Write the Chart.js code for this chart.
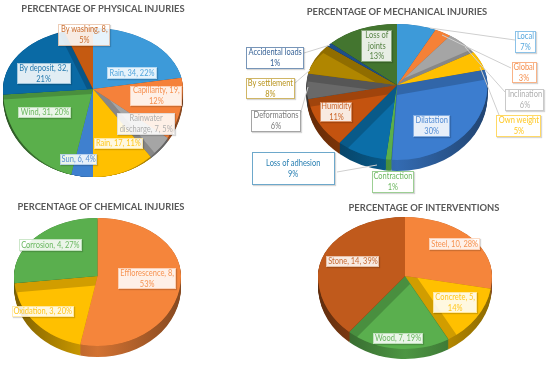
<!DOCTYPE html>
<html>
<head>
<meta charset="utf-8">
<script src="https://cdn.jsdelivr.net/npm/chart.js@4/dist/chart.umd.min.js"></script>
<style>
  html, body { margin: 0; padding: 0; background: #fff; }
  #page { position: relative; width: 550px; height: 365px; overflow: hidden; font-family: Lato, sans-serif; filter: blur(.35px); }
  canvas { position: absolute; left: 0; top: 0; }
  .title { position: absolute; height: 12px; line-height: 12px; font-size: 10.2px; font-weight: 700; color: #595959; white-space: nowrap; transform: translateX(-50%) scaleX(.92); }
  .box { position: absolute; display: flex; align-items: center; justify-content: center; text-align: center; box-sizing: border-box;
         font-size: 9.6px; line-height: 10.6px; background: rgba(255,255,255,.88); border: 1px solid; box-shadow: 1px 1px 1px rgba(0,0,0,.16); }
  .box span { flex: none; transform: scaleX(.78); }
</style>
</head>
<body>
<div id="page"></div>
<script>
// physical injuries
const physicalNames = ['Rain', 'Capillarity', 'Rainwater discharge', 'Rain', 'Sun', 'Wind', 'By deposit', 'By washing'];
const physicalValues = [34, 19, 7, 17, 6, 31, 32, 8];
const physicalPct = [22, 12, 5, 11, 4, 20, 21, 5];
const physicalColors = ['#3d9ad9', '#f5813a', '#a5a5a5', '#ffc000', '#3f80cf', '#5aaf4b', '#0a6aa5', '#c55a11'];

// mechanical injuries (only the percentages are printed on this one)
const mechanicalNames = ['Local', 'Global', 'Inclination', 'Own weight', 'Dilatation', 'Contraction', 'Loss of adhesion', 'Humidity', 'Deformations', 'By settlement', 'Accidental loads', 'Loss of joints'];
const mechanicalValues = [7, 3, 6, 5, 30, 1, 9, 11, 6, 8, 1, 13];
const mechanicalColors = ['#3d9ad9', '#f58137', '#a5a5a5', '#ffc000', '#3c7dcf', '#5aaf4b', '#0b6ea8', '#c4530f', '#696969', '#b08600', '#1d4e89', '#43752f'];

// chemical injuries
const chemicalNames = ['Efflorescence', 'Oxidation', 'Corrosion'];
const chemicalValues = [8, 3, 4];
const chemicalPct = [53, 20, 27];
const chemicalColors = ['#f5853b', '#ffc000', '#5aaf4e'];

// interventions
const interventionNames = ['Steel', 'Concrete', 'Wood', 'Stone'];
const interventionValues = [10, 5, 7, 14];
const interventionPct = [28, 14, 19, 39];
const interventionColors = ['#f5853b', '#ffc000', '#5aaf4e', '#c05a1c'];

const withCount = (names, values, pct) => names.map((n, i) => `${n}, ${values[i]}, ${pct[i]}%`);
const withPct = (names, values) => names.map((n, i) => `${n}<br>${values[i]}%`);

function rgbOf(hex) {
  const n = parseInt(hex.slice(1), 16);
  return [n >> 16, (n >> 8) & 255, n & 255];
}
function shade(hex, f) {
  const [r, g, b] = rgbOf(hex);
  return `rgb(${r * f | 0},${g * f | 0},${b * f | 0})`;
}
function washed(hex, f, a) {
  const [r, g, b] = rgbOf(hex);
  const w = v => v + (255 - v) * f | 0;
  return `rgba(${w(r)},${w(g)},${w(b)},${a})`;
}

const pies = [
  {
    title: 'PERCENTAGE OF PHYSICAL INJURIES', titleAt: [102.5, 1.5], borderAlpha: 0.3,
    values: physicalValues, colors: physicalColors, labels: withCount(physicalNames, physicalValues, physicalPct),
    cx: 93, cy: 89, rx: 90, ryTop: 61, ryBot: 88, depth: 8, wallBot: 80,
    bands: [[0, 0], [0, 0], [4, -4], [0, 0], [0, 0], [0, 5], [-5, 2], [0, 0]],
    boxes: [[107, 67, 50, 12], [130, 86, 52, 20], [117, 113, 58, 22], [94, 138, 49, 11], [60, 154, 37, 11], [18, 107, 53, 11], [17, 63, 54, 21], [58, 24, 52, 22]],
    leaders: []
  },
  {
    title: 'PERCENTAGE OF MECHANICAL INJURIES', titleAt: [396.5, 5], borderAlpha: 0.6,
    values: mechanicalValues, colors: mechanicalColors, labels: withPct(mechanicalNames, mechanicalValues),
    cx: 397, cy: 85, rx: 90.5, ryTop: 61, ryBot: 75, depth: 11, wallBot: 75,
    bands: [[0, 0], [0, 0], [3, -5], [0, 0], [0, 10], [0, 0], [6, 8], [0, 8], [0, 8], [-4, 7], [0, 0], [0, 0]],
    boxes: [[515, 31, 21, 22], [512, 62, 25, 21], [505, 89, 39, 22], [496, 115, 45, 22], [413, 115, 37, 22], [372, 171, 42, 22], [252, 152, 83, 33], [320, 102, 32, 20], [251, 110, 50, 22], [246, 78, 49, 21], [246, 47, 58, 22], [361, 30, 31, 32]],
    leaders: [[[430, 28], [515, 40]], [[442, 35], [511, 68]], [[465, 47], [505, 92]], [[480, 67], [499, 115]], [[337, 172], [377, 165]], [[304, 53], [330, 45]], [[295, 83], [310, 70]], [[300, 115], [308, 87]]]
  },
  {
    title: 'PERCENTAGE OF CHEMICAL INJURIES', titleAt: [100.5, 200], borderAlpha: 0.3,
    values: chemicalValues, colors: chemicalColors, labels: withCount(chemicalNames, chemicalValues, chemicalPct),
    cx: 97.5, cy: 276, rx: 83.5, ryTop: 58, ryBot: 70, depth: 11, wallBot: 70,
    bands: [[0, 0], [3, 9], [0, 0]],
    boxes: [[118, 268, 58, 21], [12, 306, 62, 11], [19, 239, 63, 12]],
    leaders: []
  },
  {
    title: 'PERCENTAGE OF INTERVENTIONS', titleAt: [423.5, 201], borderAlpha: 0.3,
    values: interventionValues, colors: interventionColors, labels: withCount(interventionNames, interventionValues, interventionPct),
    cx: 405, cy: 276, rx: 87, ryTop: 59, ryBot: 73, depth: 10, wallBot: 73,
    bands: [[0, 0], [9, -3], [5, 8], [0, 0]],
    boxes: [[429, 238, 51, 12], [433, 292, 44, 21], [373, 333, 50, 11], [326, 256, 53, 11]],
    leaders: []
  }
];

// the pies are tilted: the arc elements are squashed by a different amount above and below the centre
function halfView(ctx, arc, p, top, dx, dy, botRy) {
  ctx.beginPath();
  if (top) ctx.rect(0, -50, 550, p.cy + dy + 50);
  else ctx.rect(0, p.cy + dy, 550, 500);
  ctx.clip();
  ctx.translate(p.cx + dx, p.cy + dy);
  ctx.scale(p.rx / arc.outerRadius, (top ? p.ryTop : botRy) / arc.outerRadius);
  ctx.translate(-arc.x, -arc.y);
}

function slicePath(ctx, arc) {
  ctx.beginPath();
  ctx.moveTo(arc.x, arc.y);
  ctx.arc(arc.x, arc.y, arc.outerRadius, arc.startAngle, arc.endAngle);
  ctx.closePath();
}

function fillSlice(ctx, arc, p, dx, dy, botRy, color) {
  [true, false].forEach(top => {
    ctx.save();
    halfView(ctx, arc, p, top, dx, dy, botRy);
    ctx.fillStyle = color;
    slicePath(ctx, arc);
    ctx.fill();
    ctx.restore();
  });
}

// wall is dark at the sides of the pie and close to the face colour at the front
function wallColor(ctx, arc, hex) {
  const g = ctx.createLinearGradient(arc.x - arc.outerRadius, 0, arc.x + arc.outerRadius, 0);
  g.addColorStop(0, shade(hex, 0.5));
  g.addColorStop(0.5, shade(hex, 0.86));
  g.addColorStop(1, shade(hex, 0.55));
  return g;
}

const tiltedPie = {
  id: 'tiltedPie',
  beforeDatasetsDraw(chart) {
    const ctx = chart.ctx;
    const p = chart.options.plugins.tiltedPie.pie;
    const arcs = chart.getDatasetMeta(0).data;

    // side wall
    for (let dy = p.depth; dy >= 1; dy--) {
      const botRy = p.wallBot + (p.ryBot - p.wallBot) * (1 - dy / p.depth);
      arcs.forEach((arc, i) => fillSlice(ctx, arc, p, 0, dy, botRy, wallColor(ctx, arc, p.colors[i])));
    }
    // top face: darker band where the slice's own inner wall shows, then the face itself
    arcs.forEach((arc, i) => fillSlice(ctx, arc, p, 0, 0, p.ryBot, shade(p.colors[i], 0.82)));
    arcs.forEach((arc, i) => {
      const [bx, by] = p.bands[i];
      [true, false].forEach(top => {
        ctx.save();
        halfView(ctx, arc, p, top, 0, 0, p.ryBot);
        slicePath(ctx, arc);
        ctx.clip();
        ctx.setTransform(1, 0, 0, 1, 0, 0);
        fillSlice(ctx, arc, p, bx, by, p.ryBot, p.colors[i]);
        ctx.restore();
      });
    });

    // leader lines
    ctx.save();
    ctx.strokeStyle = '#cfcfcf';
    ctx.lineWidth = 1;
    p.leaders.forEach(([a, b]) => {
      ctx.beginPath();
      ctx.moveTo(a[0], a[1]);
      ctx.lineTo(b[0], b[1]);
      ctx.stroke();
    });
    ctx.restore();
    return false;
  }
};

const page = document.getElementById('page');

pies.forEach(p => {
  const canvas = document.createElement('canvas');
  canvas.width = 550;
  canvas.height = 365;
  page.appendChild(canvas);

  new Chart(canvas.getContext('2d'), {
    type: 'pie',
    data: {
      labels: p.labels,
      datasets: [{ data: p.values, backgroundColor: p.colors, borderWidth: 0 }]
    },
    plugins: [tiltedPie],
    options: {
      responsive: false,
      animation: false,
      plugins: {
        legend: { display: false },
        tooltip: { enabled: false },
        tiltedPie: { pie: p }
      }
    }
  });
});

// titles and data labels go on top of all four canvases
pies.forEach(p => {
  const t = document.createElement('div');
  t.className = 'title';
  t.textContent = p.title;
  t.style.left = p.titleAt[0] + 'px';
  t.style.top = p.titleAt[1] + 'px';
  page.appendChild(t);

  p.labels.forEach((text, i) => {
    const [x, y, w, h] = p.boxes[i];
    const d = document.createElement('div');
    d.className = 'box';
    d.style.cssText += `left:${x}px;top:${y}px;width:${w}px;height:${h}px;`;
    d.style.color = washed(p.colors[i], 0.12, 1);
    d.style.borderColor = washed(p.colors[i], 0, p.borderAlpha);

    // text is squeezed to the narrower face of the original
    const s = document.createElement('span');
    s.innerHTML = text;
    s.style.width = (w / 0.78) + 'px';
    if (h < 15) s.style.whiteSpace = 'nowrap';
    d.appendChild(s);
    page.appendChild(d);
  });
});
</script>
</body>
</html>
